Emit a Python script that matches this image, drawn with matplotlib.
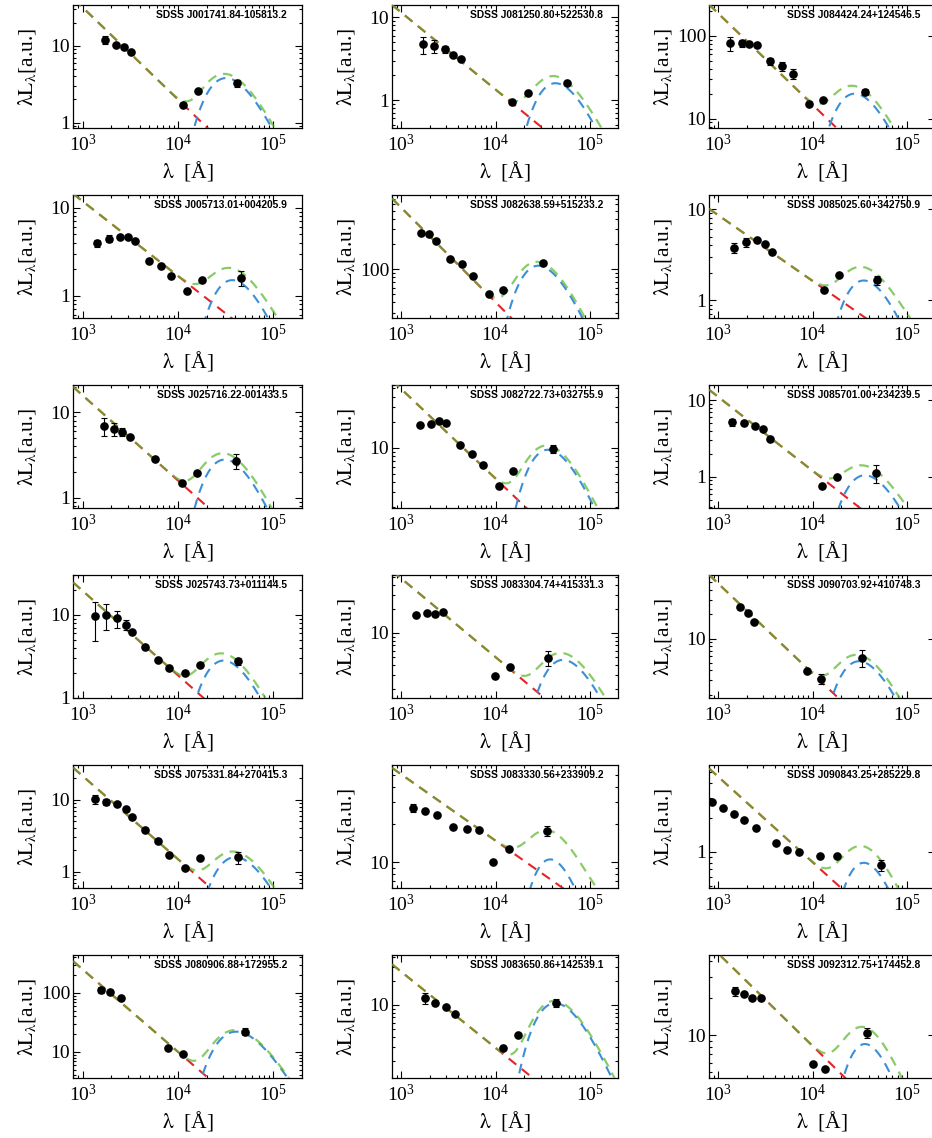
import numpy as np
import matplotlib
matplotlib.use("Agg")
import matplotlib.pyplot as plt
from matplotlib.ticker import LogLocator, NullFormatter, LogFormatterMathtext

plt.rcParams['font.family'] = ['Liberation Serif', 'DejaVu Serif']
plt.rcParams['mathtext.fontset'] = 'stix'
plt.rcParams['lines.scale_dashes'] = False

# object names, row by row
names = [
    'SDSS J001741.84-105813.2', 'SDSS J081250.80+522530.8', 'SDSS J084424.24+124546.5',
    'SDSS J005713.01+004205.9', 'SDSS J082638.59+515233.2', 'SDSS J085025.60+342750.9',
    'SDSS J025716.22-001433.5', 'SDSS J082722.73+032755.9', 'SDSS J085701.00+234239.5',
    'SDSS J025743.73+011144.5', 'SDSS J083304.74+415331.3', 'SDSS J090703.92+410748.3',
    'SDSS J075331.84+270415.3', 'SDSS J083330.56+233909.2', 'SDSS J090843.25+285229.8',
    'SDSS J080906.88+172955.2', 'SDSS J083650.86+142539.1', 'SDSS J092312.75+174452.8',
]

# rest-frame photometry: wavelength [A], lambda*L_lambda [a.u.], 1-sigma error
wave = [
    [1711, 2265, 2706, 3252, 11270, 16330, 41400],
    [1687, 2208, 2917, 3548, 4313, 15030, 22080, 56900],
    [1341, 1767, 2133, 2549, 3532, 4734, 6141, 9223, 12980, 35900],
    [1434, 1900, 2497, 3000, 3578, 4973, 6640, 8511, 12520, 17960, 45920],
    [1632, 1986, 2357, 3266, 4348, 5737, 8490, 12070, 31890],
    [1479, 1963, 2569, 3124, 3707, 13300, 19190, 48850],
    [1671, 2142, 2617, 3126, 5750, 11090, 15810, 40380],
    [1567, 2084, 2535, 2985, 4178, 5561, 7280, 10830, 15270, 40700],
    [1396, 1856, 2450, 2951, 3556, 12450, 18120, 46900],
    [1345, 1782, 2323, 2839, 3331, 4557, 6230, 8050, 11750, 16830, 42750],
    [1420, 1862, 2265, 2755, 9750, 14190, 36300],
    [1698, 2047, 2409, 8710, 12250, 33350],
    [1345, 1782, 2323, 2839, 3331, 4557, 6230, 8050, 11750, 16830, 42750],
    [1343, 1800, 2415, 3573, 4913, 6592, 9300, 13750, 34900],
    [864, 1130, 1480, 1888, 2530, 4120, 5390, 7230, 12080, 18290, 53600],
    [1560, 1936, 2523, 7810, 11220, 50000],
    [1800, 2300, 2940, 3750, 11860, 17100, 43400],
    [1500, 1850, 2300, 2800, 10000, 13700, 38000],
]
flux = [
    [12.0, 10.3, 9.6, 8.2, 1.70, 2.61, 3.26],
    [4.71, 4.54, 4.10, 3.47, 3.13, 0.955, 1.23, 1.59],
    [80.8, 80.8, 78.5, 77.0, 49.4, 43.0, 35.0, 15.2, 17.0, 21.0],
    [3.96, 4.44, 4.64, 4.64, 4.14, 2.48, 2.15, 1.67, 1.12, 1.52, 1.60],
    [268, 261, 219, 134, 115, 82.4, 50.1, 56.0, 117],
    [3.79, 4.31, 4.64, 4.12, 3.40, 1.29, 1.88, 1.66],
    [6.97, 6.37, 5.93, 5.18, 2.88, 1.49, 1.95, 2.70],
    [18.5, 18.8, 20.6, 19.7, 10.7, 8.58, 6.36, 3.61, 5.31, 9.82],
    [5.12, 4.97, 4.58, 4.19, 3.16, 0.76, 1.00, 1.14],
    [9.55, 10.0, 9.12, 7.59, 6.14, 4.09, 2.83, 2.25, 2.00, 2.47, 2.75],
    [16.6, 17.9, 17.4, 18.3, 2.87, 3.76, 4.92],
    [24.4, 20.9, 16.2, 3.91, 3.16, 5.79],
    [10.2, 9.3, 8.6, 7.3, 5.8, 3.8, 2.7, 1.7, 1.15, 1.55, 1.6],
    [27.0, 25.6, 23.8, 19.0, 18.4, 18.0, 10.0, 12.7, 17.7],
    [2.74, 2.43, 2.15, 1.91, 1.63, 1.20, 1.04, 1.00, 0.92, 0.92, 0.76],
    [112, 104, 82, 11.5, 9.2, 22],
    [12.2, 10.6, 9.4, 7.7, 2.9, 4.2, 10.6],
    [22.8, 21.5, 20.0, 20.0, 5.9, 5.3, 10.5],
]
ferr = [
    [1.45, 0.3, 0.3, 0.2, 0.05, 0.08, 0.35],
    [1.1, 0.8, 0.42, 0.1, 0.1, 0.03, 0.04, 0.05],
    [15, 8, 2, 2, 4.6, 5.8, 4.9, 0.5, 0.5, 1.6],
    [0.38, 0.39, 0.1, 0.1, 0.1, 0.07, 0.06, 0.05, 0.03, 0.05, 0.32],
    [6, 6, 5, 3, 3, 2, 1.5, 1.5, 3],
    [0.49, 0.48, 0.1, 0.1, 0.1, 0.04, 0.05, 0.17],
    [1.73, 1.07, 0.6, 0.15, 0.08, 0.04, 0.06, 0.53],
    [0.5, 0.5, 0.5, 0.5, 0.3, 0.25, 0.2, 0.1, 0.15, 1.1],
    [0.49, 0.15, 0.12, 0.1, 0.1, 0.03, 0.03, 0.3],
    [4.7, 3.4, 2.1, 1.0, 0.2, 0.1, 0.08, 0.06, 0.06, 0.07, 0.25],
    [0.6, 0.5, 0.5, 0.5, 0.1, 0.12, 1.05],
    [0.7, 0.6, 0.5, 0.12, 0.45, 1.4],
    [1.5, 0.8, 0.3, 0.2, 0.2, 0.1, 0.08, 0.05, 0.04, 0.05, 0.3],
    [2.0, 0.9, 0.5, 0.4, 0.4, 0.4, 0.2, 0.3, 1.6],
    [0.06, 0.05, 0.04, 0.04, 0.03, 0.03, 0.02, 0.02, 0.02, 0.02, 0.08],
    [12, 8, 3, 0.5, 0.4, 3],
    [1.8, 0.6, 0.3, 0.2, 0.1, 0.2, 1.2],
    [2, 0.8, 0.7, 0.7, 0.2, 0.2, 1.0],
]

# y-axis range of each panel
ylims = [
    (0.85, 34), (0.46, 14.1), (7.7, 235),
    (0.557, 13.9), (26, 773), (0.64, 14.3),
    (0.756, 21), (1.97, 54.6), (0.394, 15.7),
    (0.99, 30.2), (1.54, 52.6), (1.81, 62),
    (0.6, 30), (6.2, 59.7), (0.48, 5.8),
    (3.6, 440), (1.22, 42), (4.5, 45),
]

# accretion-disk power law: lambda*L_lambda = pl_norm * (lambda / 1e4 A)^pl_slope
pl_norm = [2.0, 1.34, 14.7, 1.67, 40.2, 1.63, 1.59, 4.35, 1.2, 1.86, 4.97, 3.66,
           1.5, 14.8, 0.81, 10, 2.9, 8.2]
pl_slope = [-1.2, -0.93, -1.1, -0.85, -1.13, -0.72, -1.0, -1.05, -0.96, -1.02, -0.98, -1.12,
            -1.15, -0.53, -0.75, -1.4, -0.95, -0.75]
# hot-dust blackbody: temperature [K] and peak of lambda*L_lambda
bb_temp = [1150, 850, 1310, 990, 1290, 1050, 1185, 1020, 1020, 1220, 705, 1180,
           920, 965, 1050, 900, 855, 1020]
bb_peak = [3.8, 1.6, 20, 1.5, 110, 1.65, 2.8, 9.5, 1.05, 2.8, 4.6, 5.2,
           1.6, 10.5, 0.8, 22, 10.5, 8.5]

HC_K = 1.4388e8  # hc/k in A*K
C_RED = '#e3242b'
C_BLUE = '#3b8fd6'
C_GREEN = '#5cb82e'


def blackbody(lam, temp, peak):
    x = HC_K / (lam * temp)
    shape = x**4 / np.expm1(x)
    xp = 3.9207
    return peak * shape / (xp**4 / np.expm1(xp))


W, H = 932, 1138
fig = plt.figure(figsize=(W / 100, H / 100), dpi=100)

col_left = [73, 392, 709]
col_width = [229, 226, 226]
row_top = [5, 195, 385, 575, 765, 955]
ax_h = 123

lam = np.logspace(2.9, 5.31, 500)

for i in range(18):
    r, c = divmod(i, 3)
    ax = fig.add_axes([col_left[c] / W, 1 - (row_top[r] + ax_h) / H,
                       col_width[c] / W, ax_h / H])
    ax.set_xscale('log')
    ax.set_yscale('log')

    pl = pl_norm[i] * (lam / 1e4) ** pl_slope[i]
    bb = blackbody(lam, bb_temp[i], bb_peak[i])

    ax.plot(lam, pl, color=C_RED, lw=1.5, dashes=(7, 5), zorder=2)
    ax.plot(lam, bb, color=C_BLUE, lw=1.5, dashes=(7, 5), zorder=2)
    ax.plot(lam, pl + bb, color=C_GREEN, lw=1.6, dashes=(7, 5), alpha=0.72, zorder=3)

    ax.errorbar(wave[i], flux[i], yerr=ferr[i], fmt='o', color='black', ms=5.2,
                elinewidth=0.8, capsize=2, capthick=0.8, zorder=4)

    ax.set_xlim(10**2.9, 10**5.3)
    ax.set_ylim(*ylims[i])

    ax.xaxis.set_major_locator(LogLocator(base=10, numticks=10))
    ax.xaxis.set_minor_locator(LogLocator(base=10, subs=np.arange(2, 10), numticks=10))
    ax.xaxis.set_major_formatter(LogFormatterMathtext())
    ax.xaxis.set_minor_formatter(NullFormatter())
    ax.yaxis.set_major_locator(LogLocator(base=10, numticks=10))
    ax.yaxis.set_minor_locator(LogLocator(base=10, subs=np.arange(2, 10), numticks=10))
    ax.yaxis.set_minor_formatter(NullFormatter())
    ax.yaxis.set_major_formatter(plt.FuncFormatter(lambda v, p: '%g' % v))

    ax.tick_params(which='both', direction='in', top=True, right=True, width=0.8,
                   labelsize=14)
    ax.tick_params(which='major', length=5)
    ax.tick_params(which='minor', length=2.5)
    ax.tick_params(axis='x', pad=4)
    ax.tick_params(axis='y', pad=2)
    for s in ax.spines.values():
        s.set_linewidth(0.9)

    ax.set_xlabel(r'$\mathrm{\lambda}$  [Å]', fontsize=15.5)
    ax.set_ylabel(r'$\mathrm{\lambda L_\lambda}$[a.u.]', fontsize=15.5)
    ax.xaxis.set_label_coords(0.5, -0.255)
    ax.yaxis.set_label_coords(-0.155, 0.5)

    ax.text(0.935, 0.915, names[i], transform=ax.transAxes, ha='right', va='center',
            fontsize=7.4, fontweight='bold', family=['Liberation Sans', 'DejaVu Sans'])

fig.savefig('out.png', dpi=100)
